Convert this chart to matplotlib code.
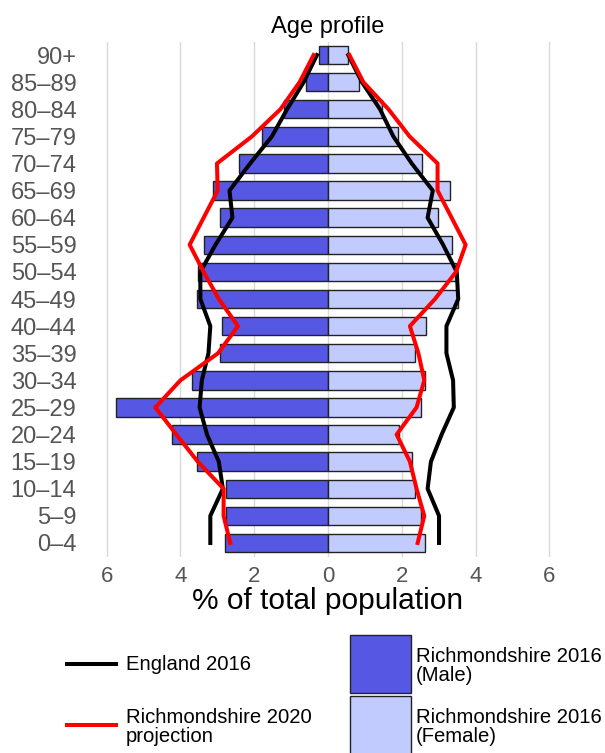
import matplotlib
matplotlib.use('Agg')
import matplotlib.pyplot as plt
from matplotlib.patches import Rectangle
from matplotlib.lines import Line2D
import numpy as np

plt.rcParams['font.family'] = ['Liberation Sans', 'DejaVu Sans']

ages = ['0–4', '5–9', '10–14', '15–19', '20–24', '25–29', '30–34', '35–39',
        '40–44', '45–49', '50–54', '55–59', '60–64', '65–69', '70–74',
        '75–79', '80–84', '85–89', '90+']

# Richmondshire 2016 (% of total population)
male_2016 = [2.78, 2.77, 2.76, 3.56, 4.22, 5.74, 3.69, 2.94, 2.86, 3.54,
             3.52, 3.37, 2.94, 3.13, 2.40, 1.78, 1.18, 0.60, 0.25]
female_2016 = [2.63, 2.52, 2.36, 2.29, 1.93, 2.53, 2.64, 2.36, 2.65, 3.53,
               3.47, 3.36, 2.98, 3.31, 2.56, 1.89, 1.47, 0.85, 0.53]

# England 2016
eng_male = [3.19, 3.19, 2.85, 2.96, 3.28, 3.48, 3.42, 3.24, 3.19, 3.46,
            3.46, 3.05, 2.59, 2.67, 2.11, 1.52, 1.11, 0.66, 0.30]
eng_female = [3.01, 3.01, 2.70, 2.79, 3.08, 3.41, 3.39, 3.21, 3.21, 3.53,
              3.49, 3.12, 2.70, 2.84, 2.27, 1.77, 1.41, 0.92, 0.55]

# Richmondshire 2020 projection
proj_male = [2.65, 2.83, 2.83, 3.53, 4.11, 4.68, 4.00, 2.98, 2.44, 2.96,
             3.37, 3.75, 3.37, 2.99, 3.01, 2.06, 1.29, 0.77, 0.39]
proj_female = [2.43, 2.61, 2.40, 2.22, 1.86, 2.40, 2.61, 2.45, 2.22, 2.90,
               3.47, 3.73, 3.35, 2.97, 2.97, 2.21, 1.64, 0.96, 0.58]

male_col = '#5658E3'
female_col = '#C2CBFD'

fig = plt.figure(figsize=(6.05, 7.53), dpi=100)
W, H = 605, 753
ax = fig.add_axes([100 / W, 1 - 556.5 / H, 456 / W, 515 / H])

y = np.arange(len(ages))
ax.barh(y, -np.array(male_2016), height=0.68, color=male_col,
        edgecolor='#222222', linewidth=1, zorder=2)
ax.barh(y, female_2016, height=0.68, color=female_col,
        edgecolor='#222222', linewidth=1, zorder=2)

ax.plot(-np.array(eng_male), y, color='black', lw=2.9, zorder=3)
ax.plot(eng_female, y, color='black', lw=2.9, zorder=3)
ax.plot(-np.array(proj_male), y, color='#FF0000', lw=2.9, zorder=4)
ax.plot(proj_female, y, color='#FF0000', lw=2.9, zorder=4)

ax.set_xlim(-6.18, 6.18)
ax.set_ylim(-0.5, len(ages) - 0.5)
ax.set_yticks(y)
ax.set_yticklabels(ages)
ticks = [-6, -4, -2, 0, 2, 4, 6]
ax.set_xticks(ticks)
ax.set_xticklabels([str(abs(t)) for t in ticks])
ax.tick_params(length=0, labelcolor='#555555')
ax.tick_params(axis='x', labelsize=16, pad=7)
ax.tick_params(axis='y', labelsize=17, pad=17)
ax.grid(axis='x', color='#d9d9d9', lw=1, zorder=0)
ax.set_axisbelow(True)
for s in ax.spines.values():
    s.set_visible(False)
ax.set_xlabel('% of total population', fontsize=21.5, labelpad=0)
ax.set_title('Age profile', fontsize=17, pad=6)

# legend drawn in figure pixel coordinates
lg = fig.add_axes([0, 0, 1, 1], facecolor='none')
lg.set_xlim(0, W)
lg.set_ylim(H, 0)
lg.axis('off')
fs = 14.6
lg.add_line(Line2D([67, 116], [664, 664], color='black', lw=2.9))
lg.text(126, 665, 'England 2016', fontsize=fs, va='center')
lg.add_line(Line2D([67, 116], [725, 725], color='#FF0000', lw=2.9))
lg.text(126, 727, 'Richmondshire 2020\nprojection', fontsize=fs,
        va='center', linespacing=1.0)
lg.add_patch(Rectangle((350, 635), 61, 58, facecolor=male_col,
                       edgecolor='#222222', lw=1))
lg.add_patch(Rectangle((350, 696), 61, 62, facecolor=female_col,
                       edgecolor='#222222', lw=1))
lg.text(416, 666, 'Richmondshire 2016\n(Male)', fontsize=fs, va='center',
        linespacing=1.0)
lg.text(416, 727, 'Richmondshire 2016\n(Female)', fontsize=fs,
        va='center', linespacing=1.0)

fig.savefig('out.png', dpi=100)
